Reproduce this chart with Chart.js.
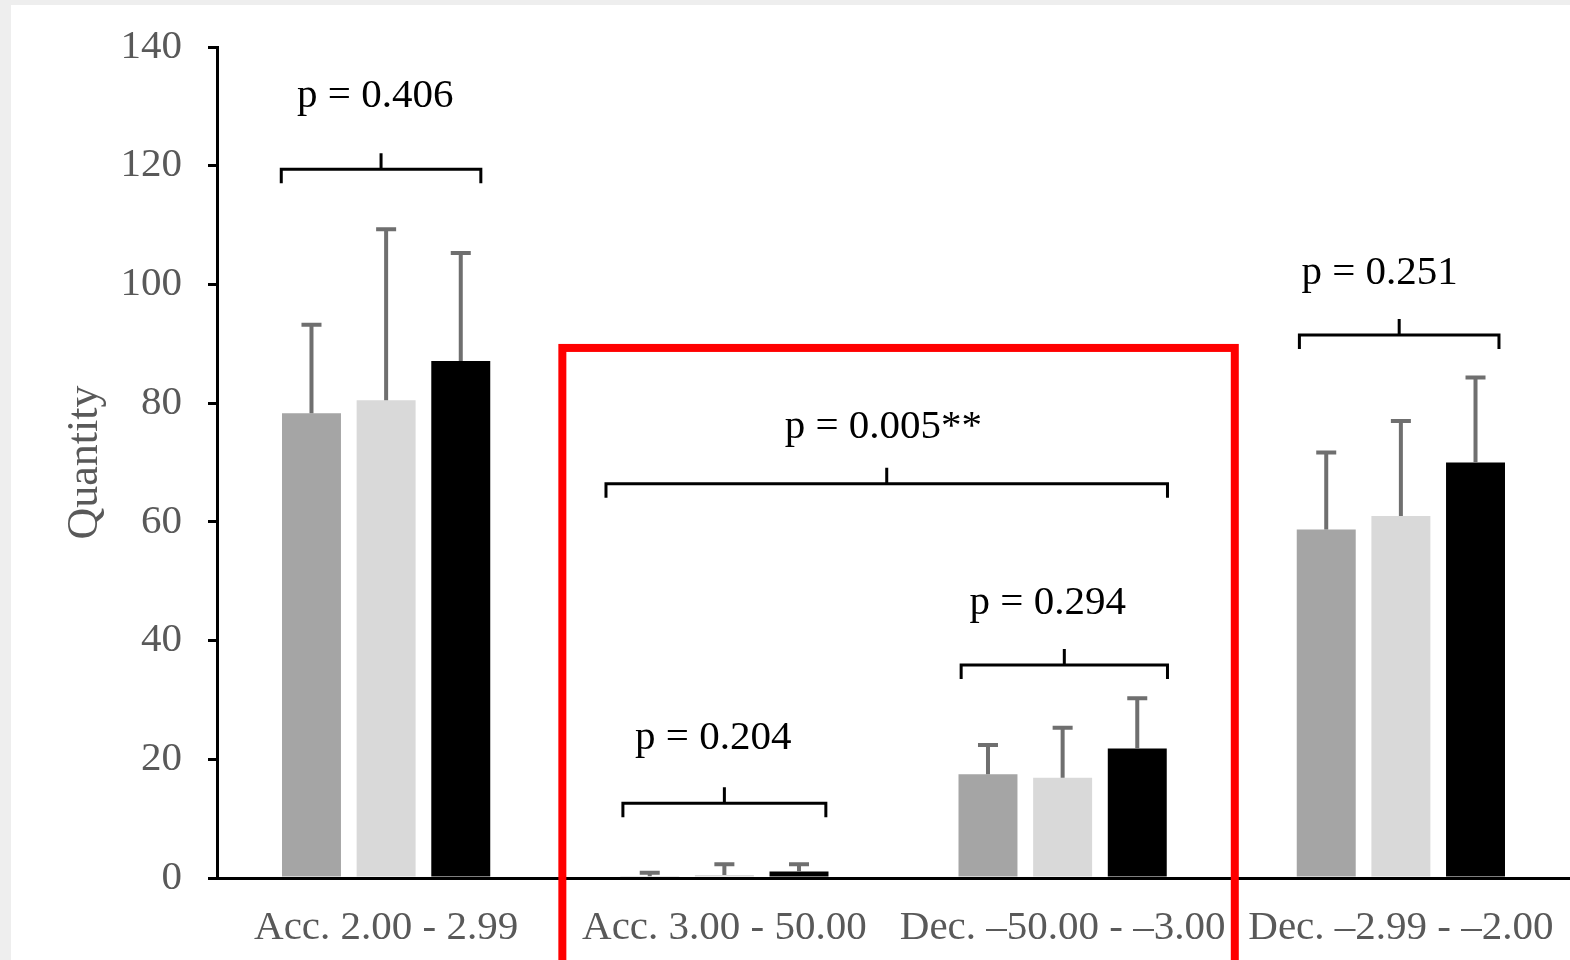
<!DOCTYPE html>
<html>
<head>
<meta charset="utf-8">
<script src="https://cdn.jsdelivr.net/npm/chart.js@4.4.0/dist/chart.umd.min.js"></script>
<style>
  html, body { margin: 0; padding: 0; background: #eeeeee; overflow: hidden; }
  #panel { position: absolute; left: 11px; top: 5px; width: 1559px; height: 955px; background: #ffffff; }
</style>
</head>
<body>
<div id="panel"><canvas id="chart" width="1559" height="955"></canvas></div>
<script>
// categories and values
var categories = ["Acc. 2.00 - 2.99", "Acc. 3.00 - 50.00", "Dec. \u201350.00 - \u20133.00", "Dec. \u20132.99 - \u20132.00"];
var seriesA = [78.3, 0.3, 17.5, 58.7];
var seriesB = [80.5, 0.5, 16.9, 61.0];
var seriesC = [87.1, 1.1, 21.8, 70.0];
var errA = [14.9, 0.6, 4.9, 13.0];
var errB = [28.8, 1.8, 8.4, 16.0];
var errC = [18.2, 1.2, 8.5, 14.3];
var yTicks = [0, 20, 40, 60, 80, 100, 120, 140];

// significance brackets (x in category units, y in data units)
var pLabels = ["p = 0.406", "p = 0.204", "p = 0.294", "p = 0.251", "p = 0.005**"];
var bracketFrom = [-0.31, 0.70, 1.70, 2.70, 0.65];
var bracketTo = [0.28, 1.30, 2.31, 3.29, 2.31];
var bracketLevel = [119.4, 12.6, 35.9, 91.5, 66.4];
var pLabelX = [-0.032, 0.967, 1.956, 2.937, 1.470];
var pLabelLevel = [131.7, 23.6, 46.3, 101.9, 76.0];

// highlighted region
var boxFrom = 0.521, boxTo = 2.509, boxTop = 89.3;

var serif = "'Liberation Serif', 'Times New Roman', serif";
var errors = [errA, errB, errC];

function catPx(xs, v) {
  var w = xs.getPixelForValue(1) - xs.getPixelForValue(0);
  return xs.getPixelForValue(0) + v * w;
}

var extras = {
  id: 'extras',
  afterDatasetsDraw: function (chart) {
    var ctx = chart.ctx, xs = chart.scales.x, ys = chart.scales.y;
    ctx.save();
    // error bars (upper only)
    ctx.strokeStyle = '#6f6f6f';
    ctx.lineWidth = 4;
    chart.data.datasets.forEach(function (ds, di) {
      chart.getDatasetMeta(di).data.forEach(function (bar, i) {
        var top = ys.getPixelForValue(ds.data[i] + errors[di][i]);
        ctx.beginPath();
        ctx.moveTo(bar.x, bar.y);
        ctx.lineTo(bar.x, top);
        ctx.moveTo(bar.x - 10, top);
        ctx.lineTo(bar.x + 10, top);
        ctx.stroke();
      });
    });
    // brackets and p labels
    ctx.strokeStyle = '#000';
    ctx.lineWidth = 3;
    ctx.fillStyle = '#000';
    ctx.font = '41px ' + serif;
    ctx.textAlign = 'center';
    ctx.textBaseline = 'middle';
    for (var k = 0; k < pLabels.length; k++) {
      var x0 = catPx(xs, bracketFrom[k]), x1 = catPx(xs, bracketTo[k]);
      var yb = ys.getPixelForValue(bracketLevel[k]);
      var xm = (x0 + x1) / 2;
      ctx.beginPath();
      ctx.moveTo(x0, yb + 14);
      ctx.lineTo(x0, yb);
      ctx.lineTo(x1, yb);
      ctx.lineTo(x1, yb + 14);
      ctx.moveTo(xm, yb);
      ctx.lineTo(xm, yb - 16);
      ctx.stroke();
      ctx.fillText(pLabels[k], catPx(xs, pLabelX[k]), ys.getPixelForValue(pLabelLevel[k]));
    }
    // red box
    ctx.strokeStyle = '#ff0000';
    ctx.lineWidth = 8;
    var bx0 = catPx(xs, boxFrom), bx1 = catPx(xs, boxTo), by0 = ys.getPixelForValue(boxTop);
    ctx.strokeRect(bx0, by0, bx1 - bx0, chart.height + 20 - by0);
    ctx.restore();
  }
};

new Chart(document.getElementById('chart'), {
  type: 'bar',
  data: {
    labels: categories,
    datasets: [
      { data: seriesA, backgroundColor: '#a5a5a5' },
      { data: seriesB, backgroundColor: '#d9d9d9' },
      { data: seriesC, backgroundColor: '#000000' }
    ]
  },
  options: {
    responsive: false,
    animation: false,
    categoryPercentage: 0.662,
    barPercentage: 0.79,
    layout: { padding: { top: 42, right: 0, left: 0, bottom: 0 } },
    plugins: { legend: { display: false }, tooltip: { enabled: false } },
    scales: {
      x: {
        afterFit: function (s) { s.height = 82; s.paddingLeft = 0; s.paddingRight = 0; },
        grid: { display: false, drawTicks: false },
        border: { display: true, color: '#000', width: 3 },
        ticks: { color: '#595959', padding: 26, font: { family: serif, size: 41 } }
      },
      y: {
        min: 0,
        max: 140,
        afterFit: function (s) { s.width = 206; s.paddingTop = 0; s.paddingBottom = 0; },
        afterBuildTicks: function (s) { s.ticks = yTicks.map(function (v) { return { value: v }; }); },
        grid: { drawOnChartArea: false, drawTicks: true, tickLength: 9, color: '#000', lineWidth: 3 },
        border: { display: true, color: '#000', width: 3 },
        ticks: { color: '#595959', padding: 26, font: { family: serif, size: 41 } },
        title: { display: true, text: 'Quantity', color: '#595959', padding: { top: 48, bottom: 0 }, font: { family: serif, size: 44 } }
      }
    }
  },
  plugins: [extras]
});
</script>
</body>
</html>
